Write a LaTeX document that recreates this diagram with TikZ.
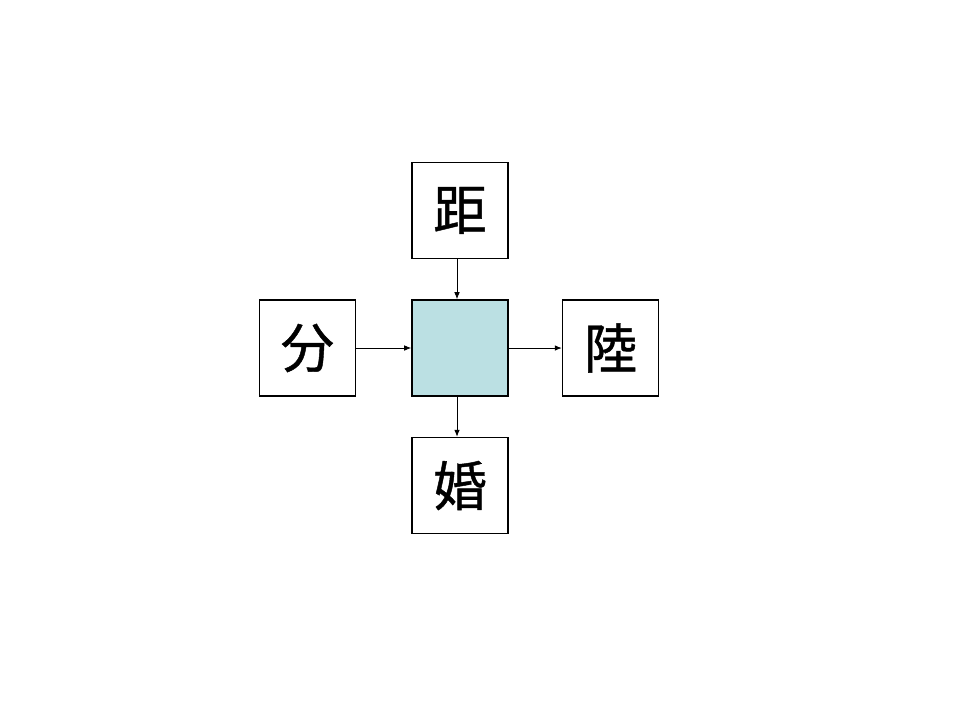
\documentclass[tikz,border=0pt]{standalone}
\usepackage{fontspec}
\newfontfamily\cjk[FakeBold=0.8]{Noto Sans CJK JP}
\usetikzlibrary{positioning,arrows.meta}
\definecolor{CoreCyan}{RGB}{187, 224, 227}

\tikzset{
  charbox/.style={draw, line width=1.1pt, minimum size=2.4cm, inner sep=0pt,
    font=\cjk\fontsize{38}{44}\selectfont},
  link/.style={-{Latex[length=5pt,width=4pt]}, line width=0.6pt}
}

\begin{document}
\begin{tikzpicture}
    \useasboundingbox (0,0) rectangle (24,-18);
    % centre box and its four neighbours
    \node[charbox, fill=CoreCyan] (core) at (11.5,-8.7) {};
    \node[charbox, above=1cm of core] (top) {距};
    \node[charbox, left=1.375cm of core] (left) {分};
    \node[charbox, right=1.325cm of core] (right) {陸};
    \node[charbox, below=1cm of core] (bottom) {婚};

    \draw[link] ([xshift=-0.075cm]top.south) -- ([xshift=-0.075cm]core.north);
    \draw[link] (left) -- (core);
    \draw[link] (core) -- (right);
    \draw[link] ([xshift=-0.075cm]core.south) -- ([xshift=-0.075cm]bottom.north);
  \end{tikzpicture}
\end{document}
